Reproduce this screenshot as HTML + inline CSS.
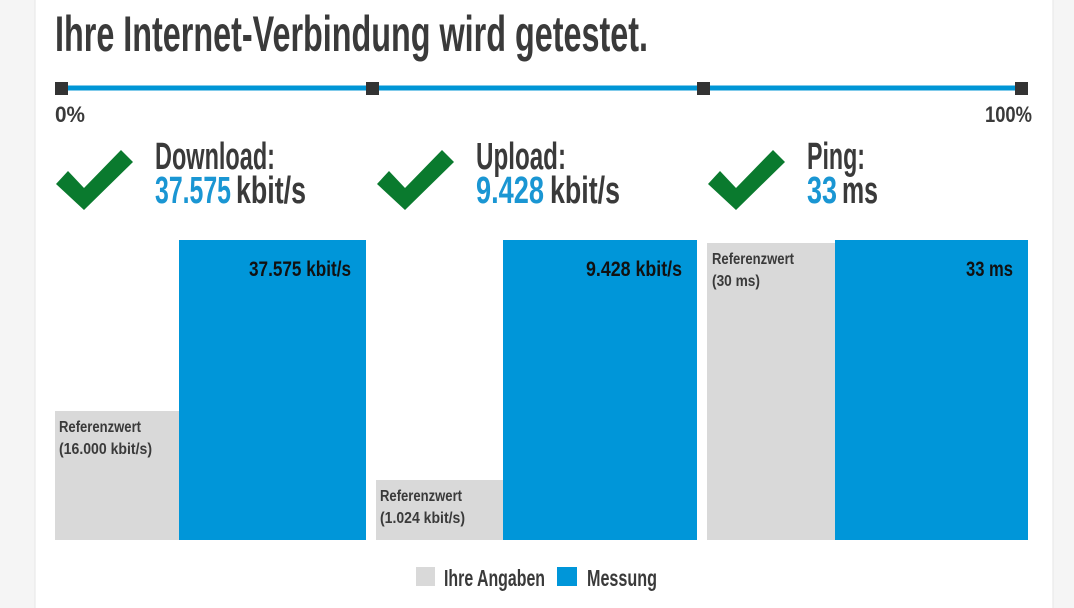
<!DOCTYPE html>
<html><head><meta charset="utf-8"><style>
html,body{margin:0;padding:0;background:#fff}
svg{display:block}
text{font-family:"Liberation Sans Narrow","Liberation Sans",sans-serif;fill:#3a3a3a;font-weight:bold}
</style></head><body>
<svg width="1074" height="608" viewBox="0 0 1074 608" xmlns="http://www.w3.org/2000/svg">
<rect x="0" y="0" width="1074" height="608" fill="#f5f5f5"/>
<rect x="35" y="0" width="1018" height="608" fill="#ffffff"/>
<line x1="35" y1="0" x2="35" y2="608" stroke="#e6e6e6"/>
<line x1="1053" y1="0" x2="1053" y2="608" stroke="#e6e6e6"/>
<text x="55" y="51" font-size="50" textLength="593" lengthAdjust="spacingAndGlyphs">Ihre Internet-Verbindung wird getestet.</text>
<line x1="61" y1="88" x2="1021" y2="88" stroke="#0096d6" stroke-width="5"/>
<rect x="55" y="82" width="13" height="13" fill="#333"/>
<rect x="366" y="82" width="13" height="13" fill="#333"/>
<rect x="697" y="82" width="13" height="13" fill="#333"/>
<rect x="1015" y="82" width="13" height="13" fill="#333"/>
<text x="55" y="122" font-size="22" textLength="30" lengthAdjust="spacingAndGlyphs">0%</text>
<text x="985" y="122" font-size="22" textLength="47" lengthAdjust="spacingAndGlyphs">100%</text>
<g fill="#0a7a2e">
<polygon points="56,184 68,171 84,188 121,150 133,162 84,210"/>
<polygon points="377,184 389,171 405,188 442,150 454,162 405,210"/>
<polygon points="708,184 720,171 736,188 773,150 785,162 736,210"/>
</g>
<text x="155" y="169" font-size="38" textLength="120" lengthAdjust="spacingAndGlyphs">Download:</text>
<text x="155" y="203" font-size="38" style="fill:#1a96d3" textLength="76" lengthAdjust="spacingAndGlyphs">37.575</text>
<text x="236" y="203" font-size="38" textLength="70" lengthAdjust="spacingAndGlyphs">kbit/s</text>
<text x="476" y="169" font-size="38" textLength="90" lengthAdjust="spacingAndGlyphs">Upload:</text>
<text x="476" y="203" font-size="38" style="fill:#1a96d3" textLength="68" lengthAdjust="spacingAndGlyphs">9.428</text>
<text x="550" y="203" font-size="38" textLength="70" lengthAdjust="spacingAndGlyphs">kbit/s</text>
<text x="807" y="169" font-size="38" textLength="58" lengthAdjust="spacingAndGlyphs">Ping:</text>
<text x="807" y="203" font-size="38" style="fill:#1a96d3" textLength="30" lengthAdjust="spacingAndGlyphs">33</text>
<text x="842" y="203" font-size="38" textLength="36" lengthAdjust="spacingAndGlyphs">ms</text>
<rect x="55" y="411" width="124" height="129" fill="#d9d9d9"/>
<rect x="179" y="240" width="187" height="300" fill="#0096d9"/>
<rect x="376" y="480" width="127" height="60" fill="#d9d9d9"/>
<rect x="503" y="240" width="194" height="300" fill="#0096d9"/>
<rect x="707" y="243" width="128" height="297" fill="#d9d9d9"/>
<rect x="835" y="240" width="193" height="300" fill="#0096d9"/>
<text x="249" y="276" font-size="21" style="fill:#111" textLength="102" lengthAdjust="spacingAndGlyphs">37.575 kbit/s</text>
<text x="586" y="276" font-size="21" style="fill:#111" textLength="96" lengthAdjust="spacingAndGlyphs">9.428 kbit/s</text>
<text x="966" y="276" font-size="21" style="fill:#111" textLength="47" lengthAdjust="spacingAndGlyphs">33 ms</text>
<text x="59" y="432" font-size="16" textLength="82" lengthAdjust="spacingAndGlyphs">Referenzwert</text>
<text x="59" y="454" font-size="16" textLength="93" lengthAdjust="spacingAndGlyphs">(16.000 kbit/s)</text>
<text x="380" y="501" font-size="16" textLength="82" lengthAdjust="spacingAndGlyphs">Referenzwert</text>
<text x="380" y="523" font-size="16" textLength="85" lengthAdjust="spacingAndGlyphs">(1.024 kbit/s)</text>
<text x="712" y="264" font-size="16" textLength="82" lengthAdjust="spacingAndGlyphs">Referenzwert</text>
<text x="712" y="286" font-size="16" textLength="48" lengthAdjust="spacingAndGlyphs">(30 ms)</text>
<rect x="416" y="567" width="19" height="19" fill="#d9d9d9"/>
<text x="444" y="586" font-size="23" textLength="101" lengthAdjust="spacingAndGlyphs">Ihre Angaben</text>
<rect x="557" y="567" width="20" height="19" fill="#0096d9"/>
<text x="587" y="586" font-size="23" textLength="70" lengthAdjust="spacingAndGlyphs">Messung</text>
</svg>
</body></html>
